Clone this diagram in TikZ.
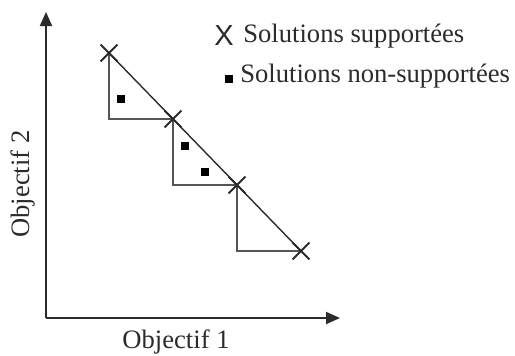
\documentclass[tikz,border=0pt]{standalone}
\usepackage{fontspec}
\setmainfont{Liberation Serif}
\newfontfamily\legsans{Liberation Sans}
\usetikzlibrary{arrows.meta, positioning, shapes.misc}
\definecolor{axisgray}{HTML}{2B2B2B}
\definecolor{stairgray}{HTML}{555555}
\tikzset{
  >=Triangle,
  font=\fontsize{13.3}{16}\selectfont,
  axis/.style={draw=axisgray, line width=1pt, -{Triangle[length=7pt, width=6pt]}},
  stair/.style={draw=stairgray, line width=1pt},
  front/.style={draw=axisgray, line width=0.7pt},
  supp/.style={cross out, draw=axisgray, line width=0.9pt, minimum size=7.5pt, inner sep=0pt},
  nonsupp/.style={fill=black, minimum size=4pt, inner sep=0pt},
  lab/.style={text=axisgray, inner sep=0pt}
}
\begin{document}
\begin{tikzpicture}[x=0.5pt, y=-0.5pt]
  \useasboundingbox (0,0) rectangle (515,355);
  % axes
  \coordinate (o) at (46,318);
  \coordinate (ytip) at (46,12);
  \coordinate (xtip) at (340,318);
  \draw[axis] (o) -- (ytip);
  \draw[axis] (o) -- (xtip);
  \node[lab] (xlab) at (176,342) {Objectif 1};
  \node[lab, rotate=90] (ylab) at (23,184) {Objectif 2};
  % supported solutions
  \coordinate (s1) at (109,53);
  \coordinate (s2) at (173,119);
  \coordinate (s3) at (237,185);
  \coordinate (s4) at (301,251);
  \draw[stair] (s1) -- (s1 |- s2) -- (s2) -- (s2 |- s3) -- (s3) -- (s3 |- s4) -- (s4);
  \draw[front] (s1) -- (s4);
  \foreach \p in {s1,s2,s3,s4}
    \node[supp] at (\p) {};
  % non-supported solutions
  \node[nonsupp] (n1) at (121,99) {};
  \node[nonsupp] (n2) at (185,146) {};
  \node[nonsupp] (n3) at (205,172) {};
  % legend
  \node[lab, font=\legsans\fontsize{14.5}{16}\selectfont] (kx) at (224,36) {X};
  \node[lab, anchor=west] (kxt) at (243,36) {Solutions supportées};
  \node[nonsupp, minimum size=3.6pt] (ksq) at (229,79) {};
  \node[lab, anchor=west] (ksqt) at (240,76) {Solutions non-supportées};
\end{tikzpicture}
\end{document}
